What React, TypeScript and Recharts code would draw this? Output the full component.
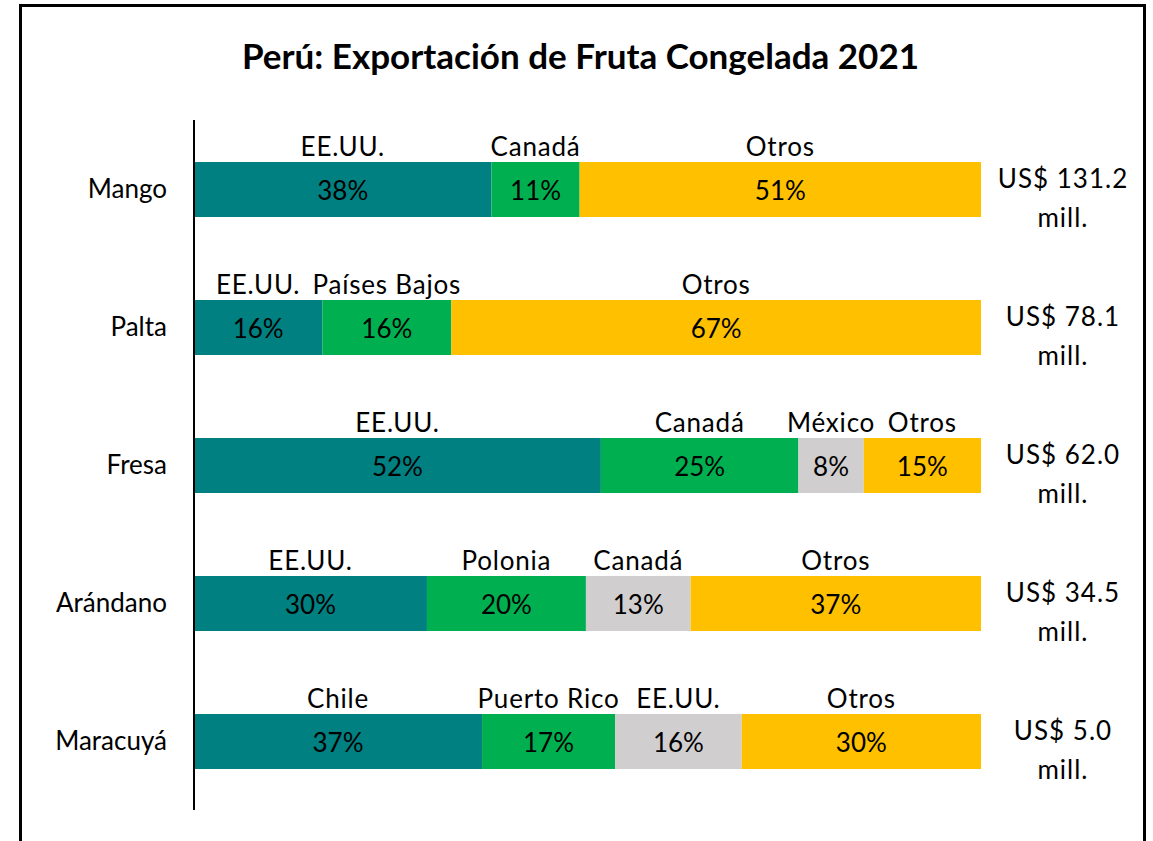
import { BarChart, Bar, XAxis, YAxis, LabelList } from 'recharts';

const fruits = ['Mango', 'Palta', 'Fresa', 'Arándano', 'Maracuyá'];

// share of each destination (%)
const share1 = [37.8, 16.3, 51.7, 29.6, 36.6];
const share2 = [11.2, 16.4, 25.1, 20.2, 16.9];
const share3 = [0, 0, 8.3, 13.3, 16.1];
const share4 = [51.0, 67.3, 14.9, 36.9, 30.4];

const dest1 = ['EE.UU.', 'EE.UU.', 'EE.UU.', 'EE.UU.', 'Chile'];
const dest2 = ['Canadá', 'Países Bajos', 'Canadá', 'Polonia', 'Puerto Rico'];
const dest3 = ['', '', 'México', 'Canadá', 'EE.UU.'];
const dest4 = ['Otros', 'Otros', 'Otros', 'Otros', 'Otros'];

// total exports, US$ millions
const totals = [131.2, 78.1, 62.0, 34.5, 5.0];

const data = fruits.map((name, i) => ({
  name,
  s1: share1[i],
  s2: share2[i],
  s3: share3[i],
  s4: share4[i],
}));

const FONT = 'Lato, "Noto Sans", sans-serif';

const rowIndex = (d: any) => fruits.indexOf(d.name);

const getBox = (p: any) => {
  const vb = p.viewBox || {};
  return {
    x: Number(p.x ?? vb.x),
    y: Number(p.y ?? vb.y),
    width: Number(p.width ?? vb.width),
    height: Number(p.height ?? vb.height),
  };
};

// value passed in is the row index, so zero-width segments don't shift names
const segLabel = (shares: number[], names: string[]) => (p: any) => {
  const i = Number(p.value);
  const v = shares[i];
  if (!v) return null;
  const { x, y, width, height } = getBox(p);
  const cx = x + width / 2;
  return (
    <g>
      <text x={cx} y={y + height / 2} textAnchor='middle' dominantBaseline='central' fontSize={26} fill='#000' fontFamily={FONT}>
        {Math.round(v)}%
      </text>
      <text x={cx} y={y - 6} textAnchor='middle' fontSize={26} letterSpacing={0.8} fill='#000' fontFamily={FONT}>
        {names[i]}
      </text>
    </g>
  );
};

const totalLabel = (p: any) => {
  const i = Number(p.value);
  const t = totals[i];
  if (t === undefined) return null;
  const { x, y, width, height } = getBox(p);
  const cx = x + width + 82;
  const cy = y + height / 2;
  return (
    <text x={cx} textAnchor='middle' fontSize={26} letterSpacing={1} fill='#000' fontFamily={FONT}>
      <tspan x={cx} y={cy - 2}>US$ {t.toFixed(1)}</tspan>
      <tspan x={cx} y={cy + 37}>mill.</tspan>
    </text>
  );
};

const App = () => {
  return (
    <div style={{ position: 'absolute', left: 0, top: 0, width: 1153, height: 841, overflow: 'hidden', background: '#fff', fontFamily: FONT }}>
      <div style={{ position: 'absolute', left: 19, top: 4, width: 1127, height: 900, border: '3px solid #000', boxSizing: 'border-box' }} />
      <div style={{ position: 'absolute', left: 0, top: 28, width: 1161, textAlign: 'center', fontSize: 35, fontWeight: 700, lineHeight: '54px', color: '#000' }}>
        Perú: Exportación de Fruta Congelada 2021
      </div>
      <div style={{ position: 'absolute', left: 0, top: 0 }}>
        <BarChart width={1153} height={841} data={data} layout='vertical' margin={{ top: 120, right: 172, bottom: 31, left: 0 }}>
          <XAxis type='number' domain={[0, 100]} hide />
          <YAxis
            type='category'
            dataKey='name'
            width={194}
            axisLine={{ stroke: '#000', strokeWidth: 2 }}
            tickLine={false}
            tickMargin={21}
            tick={{ fill: '#000', fontSize: 26, fontFamily: FONT }}
          />
          <Bar dataKey='s1' stackId='a' fill='#008080' barSize={55} isAnimationActive={false}>
            <LabelList dataKey={rowIndex} content={segLabel(share1, dest1)} />
          </Bar>
          <Bar dataKey='s2' stackId='a' fill='#00B050' barSize={55} isAnimationActive={false}>
            <LabelList dataKey={rowIndex} content={segLabel(share2, dest2)} />
          </Bar>
          <Bar dataKey='s3' stackId='a' fill='#D0CECE' barSize={55} isAnimationActive={false}>
            <LabelList dataKey={rowIndex} content={segLabel(share3, dest3)} />
          </Bar>
          <Bar dataKey='s4' stackId='a' fill='#FFC000' barSize={55} isAnimationActive={false}>
            <LabelList dataKey={rowIndex} content={segLabel(share4, dest4)} />
            <LabelList dataKey={rowIndex} content={totalLabel} />
          </Bar>
        </BarChart>
      </div>
    </div>
  );
};

export default App;
